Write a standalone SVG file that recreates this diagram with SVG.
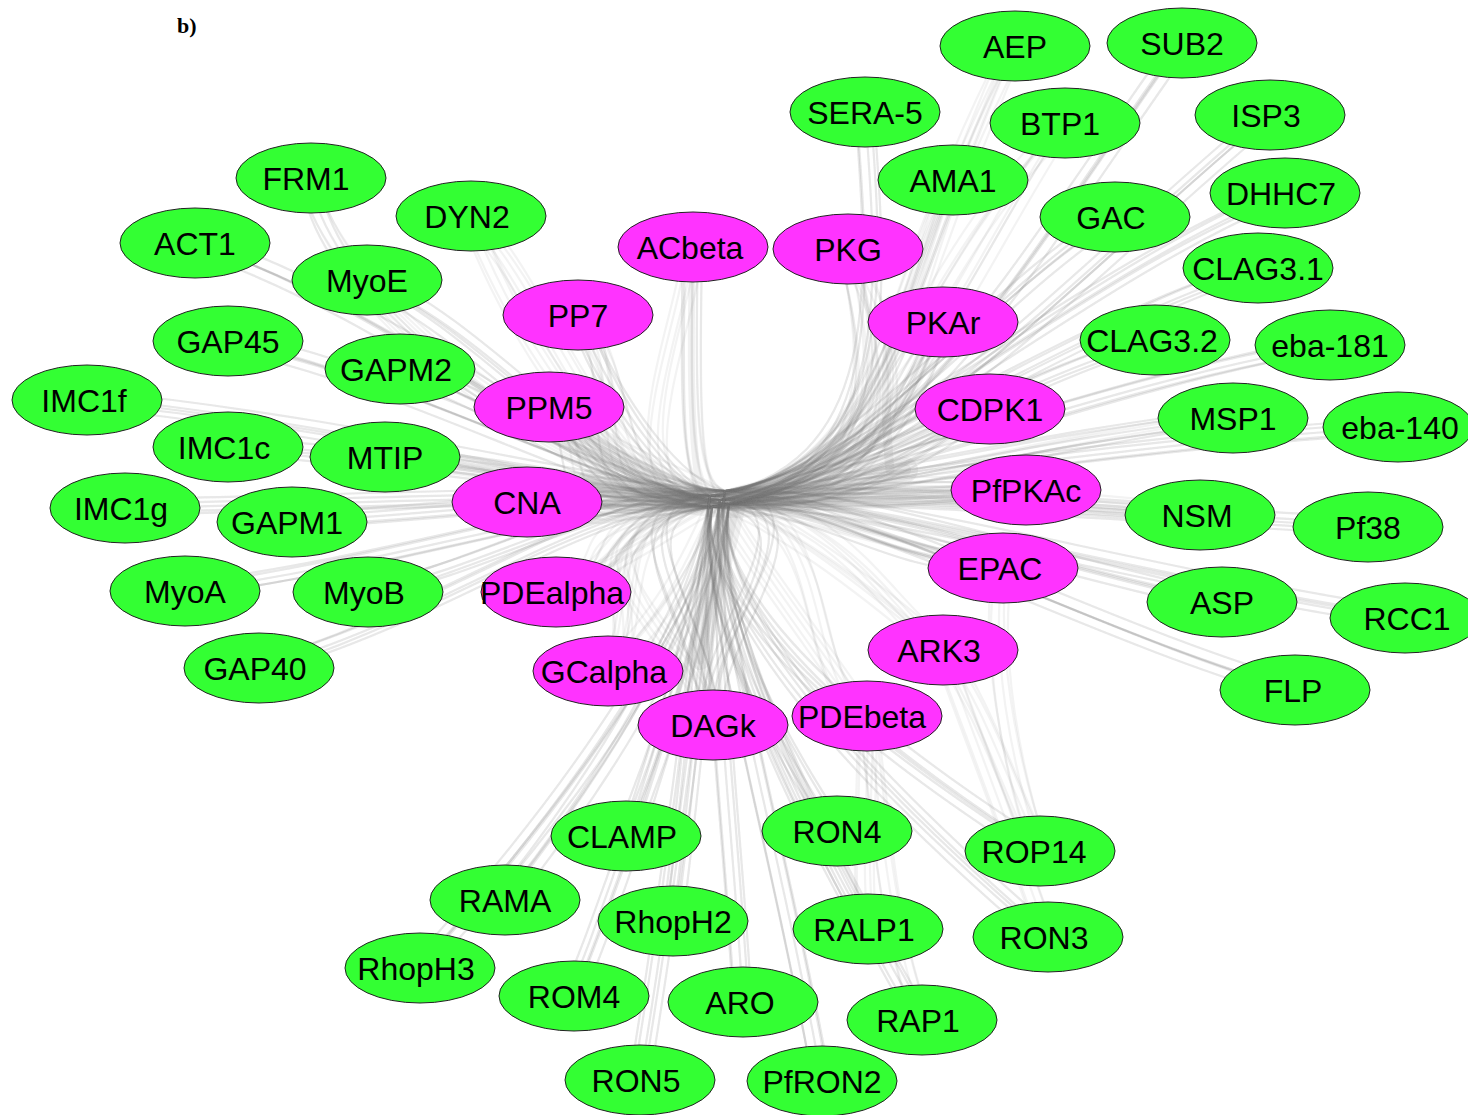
<svg xmlns="http://www.w3.org/2000/svg" width="1468" height="1115" viewBox="0 0 1468 1115">
<style>
.e{fill:none;stroke:#777;stroke-opacity:.09;stroke-width:2.2}
.f{fill:none;stroke:#888;stroke-opacity:.12;stroke-linecap:round}
.g ellipse{fill:#33ff33;stroke:#222;stroke-width:1}
.m ellipse{fill:#ff33ff;stroke:#222;stroke-width:1}
text{font-family:"Liberation Sans",Arial,sans-serif;font-size:32px;text-anchor:middle;fill:#000}
.lbl{font-family:"Liberation Serif","Times New Roman",serif;font-weight:bold;font-size:22px;text-anchor:start}
</style>
<defs>
<g id="E">
<path class="e" d="M311,178 C320,300 600,492 720,500"/>
<path class="e" d="M471,216 C500,298 600,492 720,500"/>
<path class="e" d="M195,243 C417,317 600,492 720,500"/>
<path class="e" d="M367,280 C503,343 600,492 720,500"/>
<path class="e" d="M228,341 C434,386 600,492 720,500"/>
<path class="e" d="M396,369 C518,405 600,492 720,500"/>
<path class="e" d="M87,400 C363,427 600,492 720,500"/>
<path class="e" d="M227,447 C433,460 600,492 720,500"/>
<path class="e" d="M385,457 C512,467 600,492 720,500"/>
<path class="e" d="M125,508 C382,503 600,492 720,500"/>
<path class="e" d="M291,522 C465,512 600,492 720,500"/>
<path class="e" d="M185,591 C412,561 600,492 720,500"/>
<path class="e" d="M368,592 C504,561 600,492 720,500"/>
<path class="e" d="M259,668 C449,615 600,492 720,500"/>
<path class="e" d="M311,178 C330,320 600,492 720,500 S900,470 990,409"/>
<path class="e" d="M471,216 C555,298 600,492 720,500 S895,440 943,322"/>
<path class="e" d="M195,243 C417,317 600,492 720,500 S920,495 1026,490"/>
<path class="e" d="M367,280 C503,343 600,492 720,500 S880,560 1003,568"/>
<path class="e" d="M228,341 C434,386 600,492 720,500 S700,640 713,725"/>
<path class="e" d="M396,369 C518,405 600,492 720,500 C840,508 890,460 888,380 S860,280 848,249"/>
<path class="e" d="M87,400 C363,427 600,492 720,500 S880,600 943,650"/>
<path class="e" d="M227,447 C433,460 600,492 720,500 S900,480 1200,515"/>
<path class="e" d="M385,457 C512,467 600,492 720,500 S800,680 867,716"/>
<path class="e" d="M125,508 C382,503 600,492 720,500 S1000,450 1233,418"/>
<path class="e" d="M291,522 C465,512 600,492 720,500 S900,470 990,409"/>
<path class="e" d="M185,591 C412,561 600,492 720,500 S900,500 1026,490"/>
<path class="e" d="M368,592 C504,561 600,492 720,500 S700,640 713,725"/>
<path class="e" d="M259,668 C449,615 600,492 720,500 S880,560 1003,568"/>
<path class="e" d="M1330,345 C1095,385 840,490 720,500"/>
<path class="e" d="M1233,418 C1046,437 840,490 720,500"/>
<path class="e" d="M1398,427 C1129,443 840,490 720,500"/>
<path class="e" d="M1200,515 C1030,504 840,490 720,500"/>
<path class="e" d="M1368,527 C1114,513 840,490 720,500"/>
<path class="e" d="M1222,602 C1041,565 840,490 720,500"/>
<path class="e" d="M1405,618 C1132,577 840,490 720,500"/>
<path class="e" d="M1295,690 C1077,627 840,490 720,500"/>
<path class="e" d="M1155,340 C1007,382 840,490 720,500"/>
<path class="e" d="M1258,268 C1059,332 840,490 720,500"/>
<path class="e" d="M1285,193 C1072,279 840,490 720,500"/>
<path class="e" d="M1115,217 C987,296 840,490 720,500"/>
<path class="e" d="M1330,345 C1095,385 840,490 720,500 S600,450 549,407"/>
<path class="e" d="M1233,418 C1046,437 840,490 720,500 S620,505 527,502"/>
<path class="e" d="M1398,427 C1129,443 840,490 720,500 S640,380 578,315"/>
<path class="e" d="M1200,515 C1030,504 840,490 720,500 S640,560 554,592"/>
<path class="e" d="M1368,527 C1114,513 840,490 720,500 S700,600 713,725"/>
<path class="e" d="M1222,602 C1041,565 840,490 720,500 S690,320 693,247"/>
<path class="e" d="M1405,618 C1132,577 840,490 720,500 S650,620 608,671"/>
<path class="e" d="M1295,690 C1077,627 840,490 720,500 S600,480 385,457"/>
<path class="e" d="M1155,340 C1007,382 840,490 720,500 S620,505 527,502"/>
<path class="e" d="M1258,268 C1059,332 840,490 720,500 S600,450 549,407"/>
<path class="e" d="M1285,193 C1072,279 840,490 720,500 S650,580 554,592"/>
<path class="e" d="M1115,217 C987,296 840,490 720,500 S700,600 713,725"/>
<path class="e" d="M1015,46 C900,300 900,470 720,500"/>
<path class="e" d="M1182,43 C1000,300 920,460 720,500"/>
<path class="e" d="M865,112 C880,300 890,470 720,500"/>
<path class="e" d="M1065,123 C890,300 900,470 720,500"/>
<path class="e" d="M1270,115 C1050,300 920,460 720,500"/>
<path class="e" d="M953,180 C885,320 890,470 720,500"/>
<path class="e" d="M1015,46 C880,300 900,470 720,500 S620,510 527,502"/>
<path class="e" d="M1182,43 C1000,300 920,460 720,500 S600,450 549,407"/>
<path class="e" d="M865,112 C880,300 890,470 720,500 S660,620 608,671"/>
<path class="e" d="M1065,123 C950,300 900,470 720,500 S640,560 554,592"/>
<path class="e" d="M1270,115 C1050,300 920,460 720,500 S700,640 713,725"/>
<path class="e" d="M953,180 C900,320 890,470 720,500 S640,380 578,315"/>
<path class="e" d="M626,836 C676,717 705,600 720,500"/>
<path class="e" d="M837,831 C761,715 705,600 720,500"/>
<path class="e" d="M1040,851 C842,724 705,600 720,500"/>
<path class="e" d="M505,900 C628,746 705,600 720,500"/>
<path class="e" d="M673,921 C695,755 705,600 720,500"/>
<path class="e" d="M868,929 C773,759 705,600 720,500"/>
<path class="e" d="M1048,937 C845,763 705,600 720,500"/>
<path class="e" d="M420,968 C594,777 705,600 720,500"/>
<path class="e" d="M574,996 C656,789 705,600 720,500"/>
<path class="e" d="M743,1002 C730,792 705,600 720,500"/>
<path class="e" d="M922,1020 C795,800 705,600 720,500"/>
<path class="e" d="M640,1080 C682,827 705,600 720,500"/>
<path class="e" d="M822,1081 C777,827 705,600 720,500"/>
<path class="e" d="M626,836 C676,717 705,600 720,500 C690,480 620,460 549,407"/>
<path class="e" d="M837,831 C761,715 705,600 720,500 C780,480 900,470 990,409"/>
<path class="e" d="M1040,851 C842,724 705,600 720,500 C800,490 900,480 1026,490"/>
<path class="e" d="M505,900 C628,746 705,600 720,500 C680,500 620,500 527,502"/>
<path class="e" d="M673,921 C695,755 705,600 720,500 C850,495 895,450 943,322"/>
<path class="e" d="M868,929 C773,759 705,600 720,500 C680,490 620,420 578,315"/>
<path class="e" d="M1048,937 C845,763 705,600 720,500 C800,510 900,540 1003,568"/>
<path class="e" d="M420,968 C594,777 705,600 720,500 C690,490 690,400 693,247"/>
<path class="e" d="M574,996 C656,789 705,600 720,500 C850,495 890,420 848,249"/>
<path class="e" d="M743,1002 C730,792 705,600 720,500 C680,490 620,460 549,407"/>
<path class="e" d="M922,1020 C795,800 705,600 720,500 C680,500 620,500 527,502"/>
<path class="e" d="M640,1080 C682,827 705,600 720,500 C800,495 900,490 1026,490"/>
<path class="e" d="M822,1081 C777,827 705,600 720,500 C850,495 895,450 943,322"/>
<path class="e" d="M1040,851 C1000,760 980,700 943,650"/>
<path class="e" d="M1048,937 C1000,800 960,700 943,650"/>
<path class="e" d="M922,1020 C880,900 880,780 867,716"/>
<path class="e" d="M868,929 C860,850 870,780 867,716"/>
<path class="e" d="M1040,851 C1010,760 990,650 1003,568"/>
<path class="e" d="M693,247 C690,420 690,490 720,500"/>
<path class="e" d="M848,249 C880,380 890,470 720,500"/>
<path class="e" d="M578,315 C620,420 680,490 720,500"/>
<path class="e" d="M943,322 C890,400 900,470 720,500"/>
<path class="e" d="M549,407 C620,460 660,495 720,500"/>
<path class="e" d="M990,409 C900,450 800,490 720,500"/>
<path class="e" d="M527,502 C600,500 660,500 720,500"/>
<path class="e" d="M1026,490 C900,490 800,495 720,500"/>
<path class="e" d="M1003,568 C900,540 800,505 720,500"/>
<path class="e" d="M554,592 C630,560 680,520 720,500"/>
<path class="e" d="M943,650 C860,580 780,520 720,500"/>
<path class="e" d="M608,671 C680,600 700,540 720,500"/>
<path class="e" d="M713,725 C710,620 715,560 720,500"/>
<path class="e" d="M867,716 C800,620 740,540 720,500"/>
</g>
</defs>
<rect width="1468" height="1115" fill="#fff"/>
<text class="lbl" x="177" y="33">b)</text>
<g id="edges">
<path class="f" stroke-width="26" d="M590,482 C650,492 690,505 730,505 C790,505 840,492 905,470"/>
<path class="f" stroke-width="12" d="M590,482 C650,492 690,505 730,505 C790,505 840,492 905,470"/>
<path class="f" stroke-width="20" d="M735,508 C725,560 708,600 700,660"/>
<path class="f" stroke-width="9" d="M735,508 C725,560 708,600 700,660"/>
<path class="f" stroke-width="9" d="M890,470 C885,420 885,380 890,300"/>
<path class="f" stroke-width="7" d="M700,490 C692,450 690,380 692,285"/>
<use href="#E"/>
<use href="#E" transform="translate(9,4)"/>
<use href="#E" transform="translate(-8,7)"/>
<use href="#E" transform="translate(5,-9)"/>
<use href="#E" transform="translate(-10,-4)"/>
</g>
<g id="n-AEP" class="g"><ellipse cx="1015" cy="46" rx="75" ry="35"/><text x="1015" y="58">AEP</text></g>
<g id="n-SUB2" class="g"><ellipse cx="1182" cy="43" rx="75" ry="35"/><text x="1182" y="55">SUB2</text></g>
<g id="n-SERA-5" class="g"><ellipse cx="865" cy="112" rx="75" ry="35"/><text x="865" y="124">SERA-5</text></g>
<g id="n-BTP1" class="g"><ellipse cx="1065" cy="123" rx="75" ry="35"/><text x="1060" y="135">BTP1</text></g>
<g id="n-ISP3" class="g"><ellipse cx="1270" cy="115" rx="75" ry="35"/><text x="1266" y="127">ISP3</text></g>
<g id="n-AMA1" class="g"><ellipse cx="953" cy="180" rx="75" ry="35"/><text x="953" y="192">AMA1</text></g>
<g id="n-GAC" class="g"><ellipse cx="1115" cy="217" rx="75" ry="35"/><text x="1111" y="229">GAC</text></g>
<g id="n-DHHC7" class="g"><ellipse cx="1285" cy="193" rx="75" ry="35"/><text x="1281" y="205">DHHC7</text></g>
<g id="n-CLAG3.1" class="g"><ellipse cx="1258" cy="268" rx="75" ry="35"/><text x="1258" y="280">CLAG3.1</text></g>
<g id="n-CLAG3.2" class="g"><ellipse cx="1155" cy="340" rx="75" ry="35"/><text x="1152" y="352">CLAG3.2</text></g>
<g id="n-eba-181" class="g"><ellipse cx="1330" cy="345" rx="75" ry="35"/><text x="1330" y="357">eba-181</text></g>
<g id="n-MSP1" class="g"><ellipse cx="1233" cy="418" rx="75" ry="35"/><text x="1233" y="430">MSP1</text></g>
<g id="n-eba-140" class="g"><ellipse cx="1398" cy="427" rx="75" ry="35"/><text x="1400" y="439">eba-140</text></g>
<g id="n-NSM" class="g"><ellipse cx="1200" cy="515" rx="75" ry="35"/><text x="1197" y="527">NSM</text></g>
<g id="n-Pf38" class="g"><ellipse cx="1368" cy="527" rx="75" ry="35"/><text x="1368" y="539">Pf38</text></g>
<g id="n-ASP" class="g"><ellipse cx="1222" cy="602" rx="75" ry="35"/><text x="1222" y="614">ASP</text></g>
<g id="n-RCC1" class="g"><ellipse cx="1405" cy="618" rx="75" ry="35"/><text x="1407" y="630">RCC1</text></g>
<g id="n-FLP" class="g"><ellipse cx="1295" cy="690" rx="75" ry="35"/><text x="1293" y="702">FLP</text></g>
<g id="n-FRM1" class="g"><ellipse cx="311" cy="178" rx="75" ry="35"/><text x="306" y="190">FRM1</text></g>
<g id="n-DYN2" class="g"><ellipse cx="471" cy="216" rx="75" ry="35"/><text x="467" y="228">DYN2</text></g>
<g id="n-ACT1" class="g"><ellipse cx="195" cy="243" rx="75" ry="35"/><text x="195" y="255">ACT1</text></g>
<g id="n-MyoE" class="g"><ellipse cx="367" cy="280" rx="75" ry="35"/><text x="367" y="292">MyoE</text></g>
<g id="n-GAP45" class="g"><ellipse cx="228" cy="341" rx="75" ry="35"/><text x="228" y="353">GAP45</text></g>
<g id="n-GAPM2" class="g"><ellipse cx="400" cy="369" rx="75" ry="35"/><text x="396" y="381">GAPM2</text></g>
<g id="n-IMC1f" class="g"><ellipse cx="87" cy="400" rx="75" ry="35"/><text x="84" y="412">IMC1f</text></g>
<g id="n-IMC1c" class="g"><ellipse cx="228" cy="447" rx="75" ry="35"/><text x="224" y="459">IMC1c</text></g>
<g id="n-MTIP" class="g"><ellipse cx="385" cy="457" rx="75" ry="35"/><text x="385" y="469">MTIP</text></g>
<g id="n-IMC1g" class="g"><ellipse cx="125" cy="508" rx="75" ry="35"/><text x="121" y="520">IMC1g</text></g>
<g id="n-GAPM1" class="g"><ellipse cx="292" cy="522" rx="75" ry="35"/><text x="287" y="534">GAPM1</text></g>
<g id="n-MyoA" class="g"><ellipse cx="185" cy="591" rx="75" ry="35"/><text x="185" y="603">MyoA</text></g>
<g id="n-MyoB" class="g"><ellipse cx="368" cy="592" rx="75" ry="35"/><text x="364" y="604">MyoB</text></g>
<g id="n-GAP40" class="g"><ellipse cx="259" cy="668" rx="75" ry="35"/><text x="255" y="680">GAP40</text></g>
<g id="n-CLAMP" class="g"><ellipse cx="626" cy="836" rx="75" ry="35"/><text x="622" y="848">CLAMP</text></g>
<g id="n-RON4" class="g"><ellipse cx="837" cy="831" rx="75" ry="35"/><text x="837" y="843">RON4</text></g>
<g id="n-ROP14" class="g"><ellipse cx="1040" cy="851" rx="75" ry="35"/><text x="1034" y="863">ROP14</text></g>
<g id="n-RAMA" class="g"><ellipse cx="505" cy="900" rx="75" ry="35"/><text x="505" y="912">RAMA</text></g>
<g id="n-RhopH2" class="g"><ellipse cx="673" cy="921" rx="75" ry="35"/><text x="673" y="933">RhopH2</text></g>
<g id="n-RALP1" class="g"><ellipse cx="868" cy="929" rx="75" ry="35"/><text x="864" y="941">RALP1</text></g>
<g id="n-RON3" class="g"><ellipse cx="1048" cy="937" rx="75" ry="35"/><text x="1044" y="949">RON3</text></g>
<g id="n-RhopH3" class="g"><ellipse cx="420" cy="968" rx="75" ry="35"/><text x="416" y="980">RhopH3</text></g>
<g id="n-ROM4" class="g"><ellipse cx="574" cy="996" rx="75" ry="35"/><text x="574" y="1008">ROM4</text></g>
<g id="n-ARO" class="g"><ellipse cx="743" cy="1002" rx="75" ry="35"/><text x="740" y="1014">ARO</text></g>
<g id="n-RAP1" class="g"><ellipse cx="922" cy="1020" rx="75" ry="35"/><text x="918" y="1032">RAP1</text></g>
<g id="n-RON5" class="g"><ellipse cx="640" cy="1080" rx="75" ry="35"/><text x="636" y="1092">RON5</text></g>
<g id="n-PfRON2" class="g"><ellipse cx="822" cy="1081" rx="75" ry="35"/><text x="822" y="1093">PfRON2</text></g>
<g id="n-ACbeta" class="m"><ellipse cx="693" cy="247" rx="75" ry="35"/><text x="690" y="259">ACbeta</text></g>
<g id="n-PKG" class="m"><ellipse cx="848" cy="249" rx="75" ry="35"/><text x="848" y="261">PKG</text></g>
<g id="n-PP7" class="m"><ellipse cx="578" cy="315" rx="75" ry="35"/><text x="578" y="327">PP7</text></g>
<g id="n-PKAr" class="m"><ellipse cx="943" cy="322" rx="75" ry="35"/><text x="943" y="334">PKAr</text></g>
<g id="n-PPM5" class="m"><ellipse cx="549" cy="407" rx="75" ry="35"/><text x="549" y="419">PPM5</text></g>
<g id="n-CDPK1" class="m"><ellipse cx="990" cy="409" rx="75" ry="35"/><text x="990" y="421">CDPK1</text></g>
<g id="n-CNA" class="m"><ellipse cx="527" cy="502" rx="75" ry="35"/><text x="527" y="514">CNA</text></g>
<g id="n-PfPKAc" class="m"><ellipse cx="1026" cy="490" rx="75" ry="35"/><text x="1026" y="502">PfPKAc</text></g>
<g id="n-EPAC" class="m"><ellipse cx="1003" cy="568" rx="75" ry="35"/><text x="1000" y="580">EPAC</text></g>
<g id="n-PDEalpha" class="m"><ellipse cx="556" cy="592" rx="75" ry="35"/><text x="552" y="604">PDEalpha</text></g>
<g id="n-ARK3" class="m"><ellipse cx="943" cy="650" rx="75" ry="35"/><text x="939" y="662">ARK3</text></g>
<g id="n-GCalpha" class="m"><ellipse cx="608" cy="671" rx="75" ry="35"/><text x="604" y="683">GCalpha</text></g>
<g id="n-DAGk" class="m"><ellipse cx="713" cy="725" rx="75" ry="35"/><text x="713" y="737">DAGk</text></g>
<g id="n-PDEbeta" class="m"><ellipse cx="867" cy="716" rx="75" ry="35"/><text x="862" y="728">PDEbeta</text></g>
</svg>
